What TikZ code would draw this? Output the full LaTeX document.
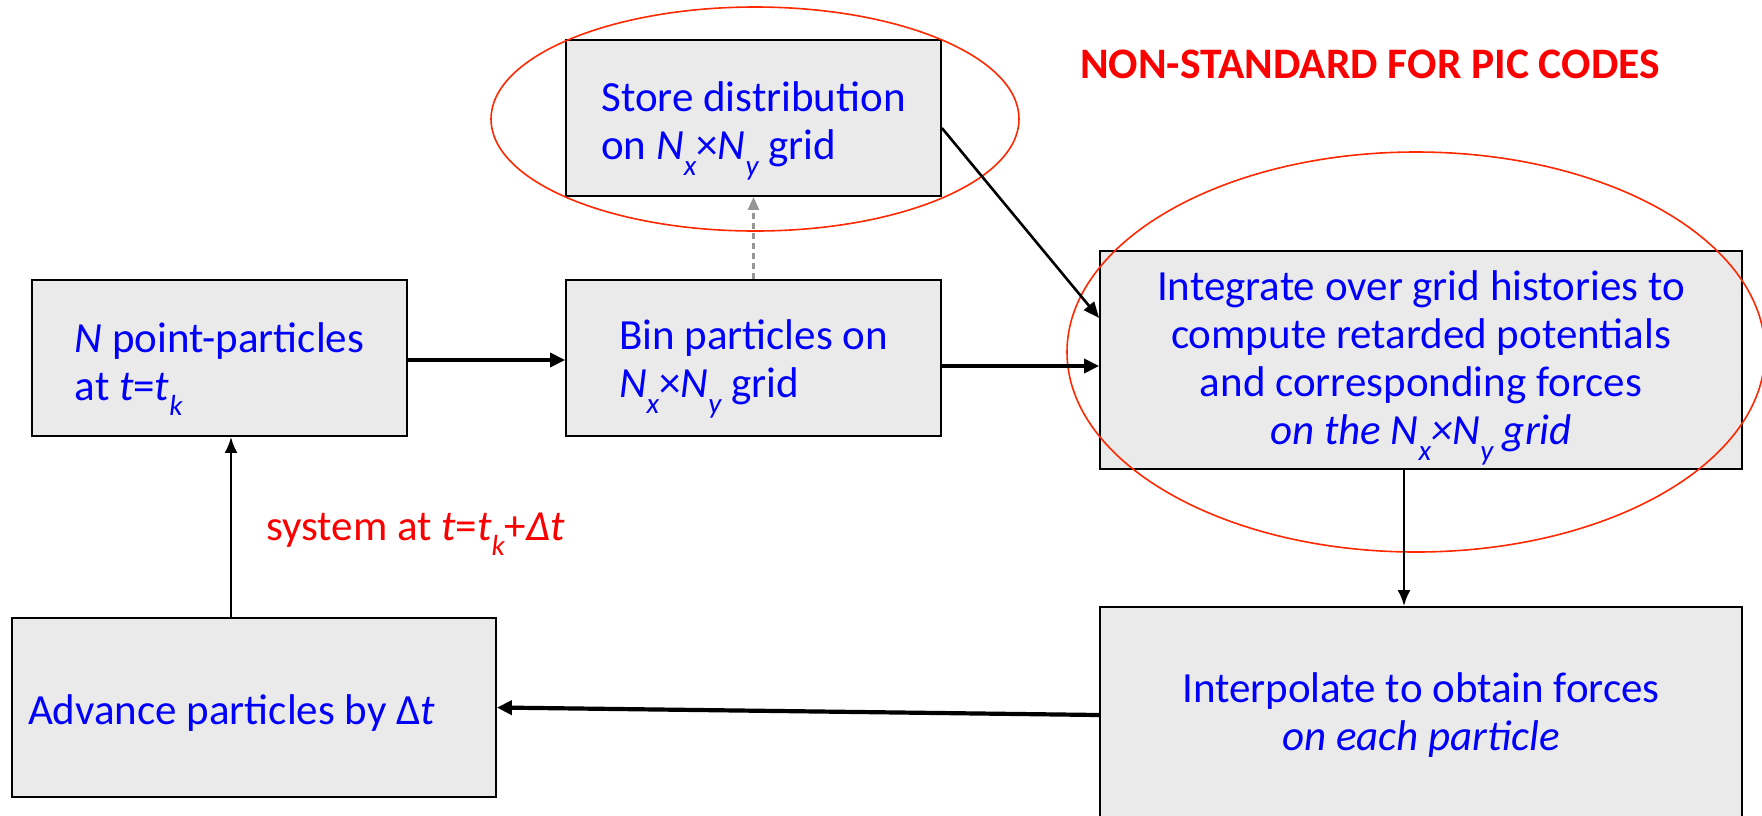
\documentclass[tikz,border=0pt]{standalone}
\usepackage{fontspec}
\setmainfont{Carlito}
\usetikzlibrary{arrows.meta}
\definecolor{tblue}{RGB}{0,0,250}
\definecolor{tred}{RGB}{250,0,0}
\definecolor{ellred}{RGB}{255,40,0}
\definecolor{boxgray}{RGB}{234,234,234}
\definecolor{dashgray}{RGB}{150,150,150}
\newcommand{\sbx}[1]{\raisebox{-0.36em}{\fontsize{29}{29}\selectfont\itshape #1}}
\newcommand{\tstrut}[1]{\rule{0pt}{#1}}
\begin{document}
\begin{tikzpicture}[x=1pt,y=-1pt,
  box/.style={draw=black, line width=1.8pt, fill=boxgray, inner sep=0pt,
    font=\fontsize{43}{48}\selectfont, text=tblue},
  arrthick/.style={-{Triangle[length=15pt,width=14pt]}, line width=3.5pt},
  arrmid/.style={-{Triangle[length=16pt,width=13pt]}, line width=2.6pt},
  arrthin/.style={-{Latex[length=16pt,width=13pt]}, line width=2.6pt},
  arrdash/.style={-{Triangle[length=13pt,width=11pt]}, line width=2.4pt, draw=dashgray, dash pattern=on 6pt off 4pt},
  ell/.style={draw=ellred, line width=1.6pt},
  lab/.style={inner sep=0pt, font=\fontsize{43}{48}\selectfont}]
\useasboundingbox (0,0) rectangle (1762,815);
\clip (0,0) rectangle (1762,815);

\node[box, minimum width=375pt, minimum height=156pt, align=left] (n1) at (219.5,358)
  {\tstrut{52pt}\textit{N} point-particles\\ at \textit{t}=\textit{t}\sbx{k}};
\node[box, minimum width=375pt, minimum height=156pt, align=left] (bin) at (753.5,358)
  {\tstrut{52pt}Bin particles on\\ \textit{N}\sbx{x}×\textit{N}\sbx{y} grid};
\node[box, minimum width=375pt, minimum height=156pt, align=left] (store) at (753.5,118)
  {\tstrut{56pt}Store distribution\\ on \textit{N}\sbx{x}×\textit{N}\sbx{y} grid};
\node[box, minimum width=642pt, minimum height=218pt, align=center] (integ) at (1421,360)
  {\tstrut{46pt}Integrate over grid histories to\\ compute retarded potentials\\ and corresponding forces\\
   \textit{on the N\sbx{x}×N\sbx{y} grid}};
\node[box, minimum width=642pt, minimum height=216pt, align=center] (interp) at (1421,715)
  {Interpolate to obtain forces\\ \textit{on each particle}};
\node[box, minimum width=484pt, minimum height=179pt, text width=452pt, inner xsep=16pt, align=flush left] (adv) at (254,707.5)
  {\tstrut{40pt}Advance particles by Δ\textit{t}};

\draw[ell] (755,119) ellipse [x radius=264pt, y radius=112pt];
\draw[ell] (1416,352) ellipse [x radius=349pt, y radius=200pt];

\node[lab, text=tred, font=\fontsize{43.5}{48}\selectfont\bfseries] (title) at (1370,64) {NON-STANDARD FOR PIC CODES};
\node[lab, text=tred, anchor=base west] (sys) at (266,540) {system at \textit{t}=\textit{t}\sbx{k}+\textit{Δt}};

\draw[arrthick] ([yshift=-2pt]n1.east) -- ([yshift=-2pt]n1.east -| bin.west);
\draw[arrthick] ([yshift=-8pt]bin.east) -- ([yshift=-8pt]bin.east -| integ.west);
\draw[arrmid] ([yshift=-10pt]store.east) -- ([yshift=42pt]integ.west);
\draw[arrdash] (bin.north) -- (store.south);
\draw[arrthin] ([xshift=-17pt]integ.south) -- ([xshift=-17pt]interp.north);
\draw[arrthick, line width=4.2pt] (interp.west) -- (adv.east);
\draw[arrthin] ([xshift=-23pt]adv.north) -- ([xshift=-23pt]adv.north |- n1.south);
\end{tikzpicture}
\end{document}
